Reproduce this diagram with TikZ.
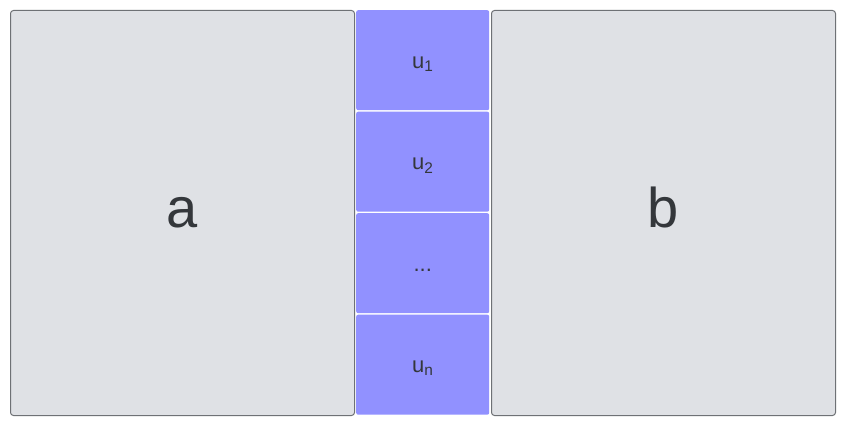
\documentclass[tikz,border=0pt]{standalone}
\usepackage{fontspec}
\setmainfont{Liberation Sans}
\definecolor{sidegray}{HTML}{DFE1E5}
\definecolor{sideline}{HTML}{6E7175}
\definecolor{unitblue}{HTML}{9191FF}
\definecolor{textgray}{HTML}{34373B}
\tikzset{
  side/.style={draw=sideline, line width=1pt, fill=sidegray, rounded corners=3pt,
    anchor=north west, minimum width=344pt, minimum height=405pt, inner sep=0pt,
    text height=29pt, text depth=0pt,
    text=textgray, font=\fontsize{56}{60}\selectfont},
  unit/.style={fill=unitblue, rounded corners=2pt, anchor=north west,
    minimum width=133pt, minimum height=100pt, inner sep=0pt,
    text height=16pt, text depth=0pt,
    text=textgray, font=\fontsize{22}{26}\selectfont}
}
\begin{document}
\begin{tikzpicture}[x=1pt, y=-1pt]
    \useasboundingbox[fill=white] (0,0) rectangle (843,425);
    \node[side] (a) at (10,10) {a};
    \node[side] (b) at (491,10) {b};
    \node[unit] (u1) at (356,10) {u\textsubscript{1}};
    \node[unit] (u2) at (356,111.5) {u\textsubscript{2}};
    \node[unit] (udots) at (356,213) {...};
    \node[unit] (un) at (356,314.5) {u\textsubscript{n}};
\end{tikzpicture}
\end{document}
